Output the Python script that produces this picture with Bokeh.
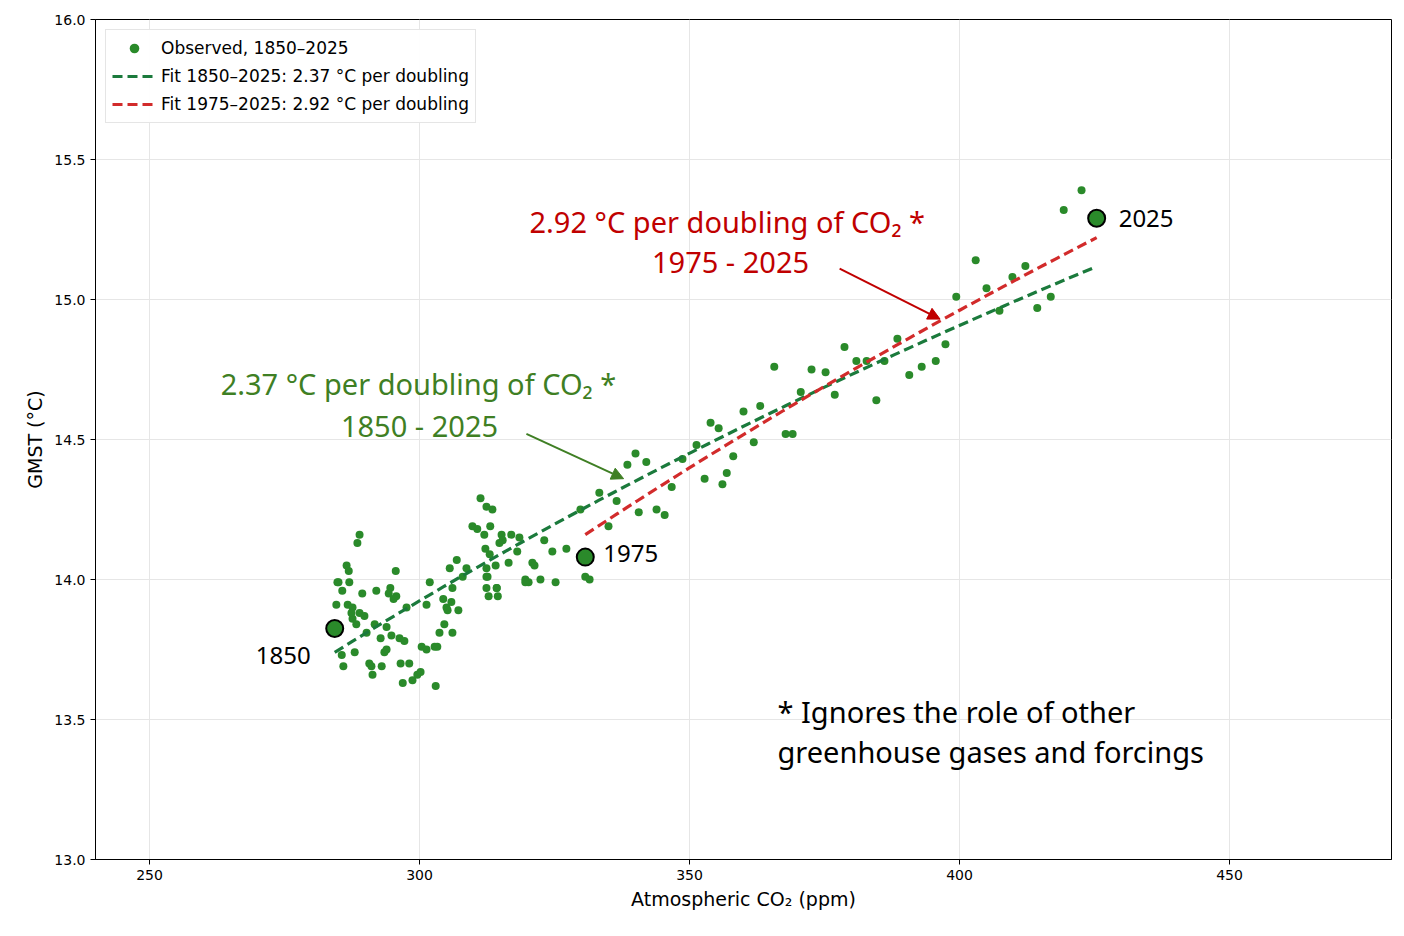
import numpy as np
from bokeh.plotting import figure
from bokeh.models import Arrow, NormalHead, Legend, LegendItem, Label, FixedTicker, PrintfTickFormatter
from bokeh.embed import file_html
from bokeh.resources import INLINE

co2 = [288.9, 288.5, 286.5, 286.9, 295.6, 284.8, 287.0, 292.0, 294.6, 294.3, 289.4, 295.7, 295.2,
       284.6, 286.7, 287.6, 288.9, 289.8, 287.6, 297.6, 291.7, 293.9, 288.3, 290.2, 292.8, 294.8,
       296.3, 297.2, 285.6, 288.0, 285.9, 290.7, 291.1, 293.0, 293.5, 293.9, 291.3, 296.5, 298.1,
       296.9, 298.7, 299.6, 303.0, 300.4, 301.3, 302.8, 303.3, 303.7, 304.6, 305.0, 304.4, 301.9,
       301.3, 306.1, 307.2, 305.9, 305.2, 305.6, 306.9, 308.7, 308.0, 306.1, 312.4, 312.6, 314.3,
       314.5, 319.6, 320.2, 285.0, 285.7, 287.4, 300.2,
       311.3, 312.4, 313.5, 309.8, 310.7, 312.0, 313.1, 315.2, 317.0, 318.5, 312.2, 313.0, 315.4,
       314.8, 318.1, 316.5, 314.1, 312.4, 312.4, 314.3, 312.8, 320.9, 321.3, 319.6, 322.4, 323.1,
       325.2, 324.6, 327.2, 329.8, 330.7, 331.5, 333.3, 335.0, 336.5, 338.5, 340.0, 340.6, 343.9,
       345.4, 342.0, 346.7, 348.7, 351.3, 352.8, 353.9, 355.4, 356.1, 356.9, 358.1, 360.0, 361.9,
       363.1, 365.7, 367.8, 369.1, 370.6, 372.6, 375.2, 376.9, 378.7, 380.9, 382.8, 384.6, 386.1,
       388.5, 390.7, 393.0, 395.6, 397.4, 399.4, 403.0, 405.0, 407.4, 409.8, 412.2, 414.4, 416.9,
       419.3, 422.6]
temp = [14.16, 14.13, 14.05, 14.03, 14.03, 13.99, 13.99, 13.96, 13.97, 13.95, 13.95, 13.94, 13.93,
        13.91, 13.91, 13.90, 13.88, 13.87, 13.86, 13.90, 13.84, 13.83, 13.84, 13.81, 13.79, 13.80,
        13.79, 13.78, 13.73, 13.74, 13.69, 13.70, 13.69, 13.69, 13.74, 13.75, 13.66, 13.70, 13.70,
        13.63, 13.64, 13.66, 13.62, 13.76, 13.75, 13.76, 13.76, 13.81, 13.84, 13.90, 13.93, 13.99,
        13.91, 13.81, 13.89, 13.92, 13.89, 14.04, 14.07, 14.04, 14.01, 13.97, 13.97, 14.01, 13.97,
        13.94, 14.00, 13.99, 13.99, 13.96, 13.88, 13.67,
        14.29, 14.26, 14.25, 14.19, 14.18, 14.16, 14.19, 14.16, 14.16, 14.15, 14.11, 14.09, 14.14,
        14.13, 14.10, 14.06, 14.05, 14.04, 14.01, 13.97, 13.94, 14.06, 14.05, 13.99, 14.00, 14.14,
        13.99, 14.10, 14.11, 14.25, 14.01, 14.00, 14.31, 14.19, 14.28, 14.41, 14.45, 14.24, 14.25,
        14.23, 14.42, 14.33, 14.43, 14.48, 14.36, 14.56, 14.54, 14.34, 14.38, 14.44, 14.60, 14.49,
        14.62, 14.76, 14.52, 14.52, 14.67, 14.75, 14.74, 14.66, 14.83, 14.78, 14.78, 14.64, 14.78,
        14.86, 14.73, 14.76, 14.78, 14.84, 15.01, 15.14, 15.04, 14.96, 15.08, 15.12, 14.97, 15.01,
        15.32, 15.39]

hl_co2 = [284.3, 330.7, 425.4]
hl_temp = [13.825, 14.08, 15.29]
hl_labels = ["1850", "1975", "2025"]

fit1_range = [284.3, 425.4]; fit1_sens = 2.37; fit1_at_start = 13.74
fit2_range = [330.7, 425.4]; fit2_sens = 2.92; fit2_at_start = 14.16

p = figure(width=1400, height=930, x_range=(240, 480), y_range=(13.0, 16.0),
           output_backend="svg", toolbar_location=None,
           min_border_left=95, min_border_right=9, min_border_top=19, min_border_bottom=71)
p.outline_line_color = "black"
p.outline_line_width = 1
p.background_fill_color = "white"
for ax in (p.xaxis[0], p.yaxis[0]):
    ax.major_label_text_font = "DejaVu Sans"
    ax.major_label_text_font_size = "14px"
    ax.major_label_text_color = "black"
    ax.axis_label_text_font = "DejaVu Sans"
    ax.axis_label_text_font_size = "19px"
    ax.axis_label_text_font_style = "normal"
    ax.axis_label_text_color = "black"
    ax.minor_tick_line_color = None
    ax.axis_line_color = "black"
    ax.major_tick_line_color = "black"
    ax.major_tick_out = 5
    ax.major_tick_in = 0
p.xaxis.axis_label = "Atmospheric CO₂ (ppm)"
p.yaxis.axis_label = "GMST (°C)"
p.xaxis.ticker = FixedTicker(ticks=[250, 300, 350, 400, 450])
p.yaxis.ticker = FixedTicker(ticks=[13.0, 13.5, 14.0, 14.5, 15.0, 15.5, 16.0])
p.yaxis.formatter = PrintfTickFormatter(format="%.1f")
p.grid.grid_line_color = "#e6e6e6"

sc = p.scatter(co2, temp, size=8, color="#2a8a2a", line_color=None)

def fitline(rng, sens, y0):
    xs = np.linspace(rng[0], rng[1], 50)
    return xs, y0 + sens * np.log2(xs / rng[0])

x1, y1 = fitline(fit1_range, fit1_sens, fit1_at_start)
x2, y2 = fitline(fit2_range, fit2_sens, fit2_at_start)
l1 = p.line(x1, y1, color="#1b7a3c", line_width=3.2, line_dash="10 5")
l2 = p.line(x2, y2, color="#d22b2b", line_width=3.2, line_dash="10 5")

p.scatter(hl_co2, hl_temp, size=17, fill_color="#2a8a2a", line_color="black", line_width=2)
offs = [(-24, 27, "right"), (18, -4, "left"), (22, 0, "left")]
for xv, yv, t, (dx, dy, al) in zip(hl_co2, hl_temp, hl_labels, offs):
    p.add_layout(Label(x=xv, y=yv, x_offset=dx, y_offset=-dy,
                       text=t, text_font="Noto Sans", text_font_size="24px",
                       text_align=al, text_baseline="middle", text_color="black"))

red = "#c00000"
green = "#3f7f24"
def big(x, y, t, c, align="center"):
    p.add_layout(Label(x=x, y=y, text=t, text_color=c, text_font="Noto Sans",
                       text_font_size="29px", text_align=align, text_baseline="middle"))

big(357.0, 15.28, "2.92 °C per doubling of CO₂ *", red)
big(357.6, 15.135, "1975 - 2025", red)
big(299.8, 14.7, "2.37 °C per doubling of CO₂ *", green)
big(300.0, 14.55, "1850 - 2025", green)
big(366.3, 13.53, "* Ignores the role of other", "black", "left")
big(366.3, 13.385, "greenhouse gases and forcings", "black", "left")

p.add_layout(Arrow(x_start=377.8, y_start=15.11, x_end=396.4, y_end=14.93, line_color=red, line_width=2,
                   end=NormalHead(size=12, fill_color=red, line_color=red)))
p.add_layout(Arrow(x_start=319.8, y_start=14.52, x_end=337.8, y_end=14.36, line_color=green, line_width=2,
                   end=NormalHead(size=12, fill_color=green, line_color=green)))

legend = Legend(items=[LegendItem(label="Observed, 1850–2025", renderers=[sc]),
                       LegendItem(label="Fit 1850–2025: 2.37 °C per doubling", renderers=[l1]),
                       LegendItem(label="Fit 1975–2025: 2.92 °C per doubling", renderers=[l2])],
                location="top_left", label_text_font="DejaVu Sans", label_text_font_size="17px",
                label_text_color="black",
                border_line_color="#cccccc", border_line_width=1, spacing=4, padding=6,
                margin=10, glyph_width=44, label_height=24, glyph_height=24)
p.add_layout(legend)

open("out.html", "w").write(file_html(p, INLINE))
